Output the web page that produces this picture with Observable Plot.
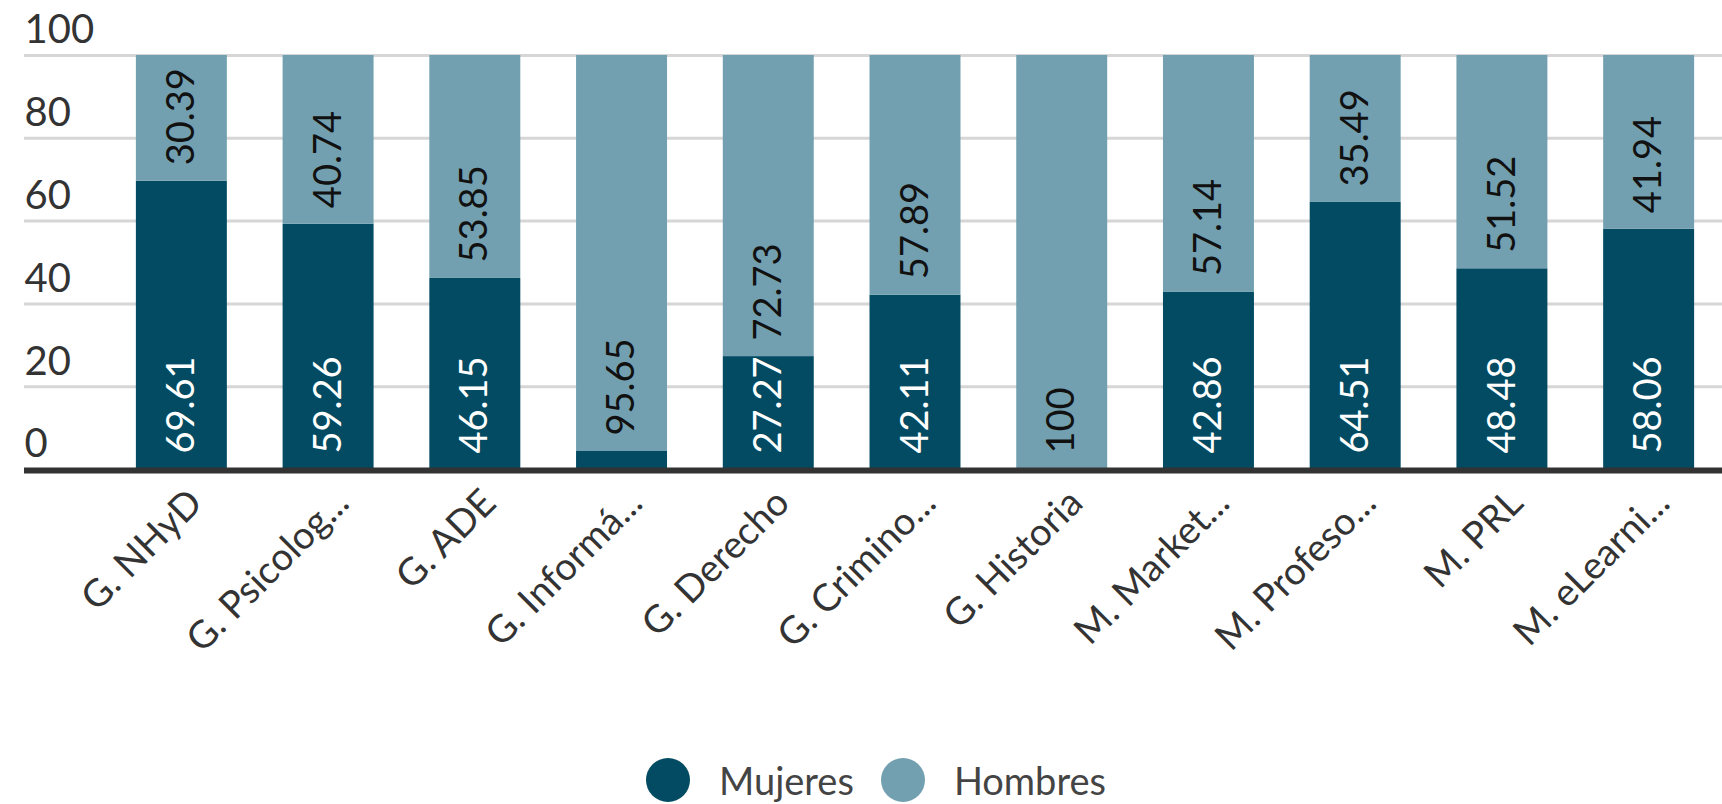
<!DOCTYPE html>
<html><head><meta charset="utf-8">
<script src="https://cdn.jsdelivr.net/npm/d3@7"></script>
<script src="https://cdn.jsdelivr.net/npm/@observablehq/plot@0.6"></script>
<style>
body{margin:0;background:#fff;font-family:Lato, sans-serif;}
#legend{display:flex;align-items:center;height:44px;margin-top:58px;padding-left:646px;font-size:38px;color:#444;}
.item{display:flex;align-items:center;margin-right:27px;}
.sw{width:44px;height:44px;border-radius:50%;display:inline-block;margin-right:29px;}
</style></head><body>
<div id="chart"></div>
<div id="legend"></div>
<script>
const categories = ["G. NHyD", "G. Psicolog...", "G. ADE", "G. Informá...", "G. Derecho", "G. Crimino...", "G. Historia", "M. Market...", "M. Profeso...", "M. PRL", "M. eLearni..."];
const mujeres = [69.61, 59.26, 46.15, 4.35, 27.27, 42.11, 0, 42.86, 64.51, 48.48, 58.06];
const hombres = [30.39, 40.74, 53.85, 95.65, 72.73, 57.89, 100, 57.14, 35.49, 51.52, 41.94];
const series = ["Mujeres", "Hombres"];
const colors = ["#024b62", "#72a0b0"];
const yTicks = [0, 20, 40, 60, 80, 100];

const rows = categories.flatMap((c, i) => [
  {cat: c, sexo: "Mujeres", value: mujeres[i], base: 0},
  {cat: c, sexo: "Hombres", value: hombres[i], base: mujeres[i]}
]);
const labelled = rows.filter(d => d.value >= 5);

const plot = Plot.plot({
  width: 1722, height: 700,
  marginLeft: 24, marginRight: 0, marginTop: 55, marginBottom: 231,
  style: {fontFamily: "Lato, sans-serif", background: "#fff", overflow: "visible"},
  x: {type: "band", domain: categories, range: [108, 1722], paddingInner: 0.38, paddingOuter: 0.19, round: false, label: null},
  y: {domain: [0, 100], label: null},
  color: {domain: series, range: colors},
  marks: [
    Plot.ruleY(yTicks.filter(t => t > 0), {stroke: "#d6d6d6", strokeWidth: 3}),
    Plot.barY(rows, {x: "cat", y: "value", fill: "sexo"}),
    Plot.text(labelled.filter(d => d.sexo === "Mujeres"), {x: "cat", y: "base", text: d => String(d.value), rotate: -90, textAnchor: "start", fill: "white", fontSize: 38, dy: -16}),
    Plot.text(labelled.filter(d => d.sexo === "Hombres"), {x: "cat", y: "base", text: d => String(d.value), rotate: -90, textAnchor: "start", fill: "#111", fontSize: 38, dy: -16}),
    Plot.ruleY([0], {stroke: "#333", strokeWidth: 6, dy: 1}),
    Plot.axisY({ticks: yTicks, tickSize: 0, tickPadding: 0, textAnchor: "start", fontSize: 40, fill: "#333", dy: -25, label: null}),
    Plot.axisX({tickRotate: -45, tickSize: 0, tickPadding: 27, fontSize: 38, fill: "#333", dx: 14, label: null})
  ]
});
document.getElementById("chart").appendChild(plot);

const legend = document.getElementById("legend");
series.forEach((s, i) => {
  const item = document.createElement("div");
  item.className = "item";
  const sw = document.createElement("span");
  sw.className = "sw";
  sw.style.background = colors[i];
  const t = document.createElement("span");
  t.textContent = s;
  item.appendChild(sw);
  item.appendChild(t);
  legend.appendChild(item);
});
</script>
</body></html>
